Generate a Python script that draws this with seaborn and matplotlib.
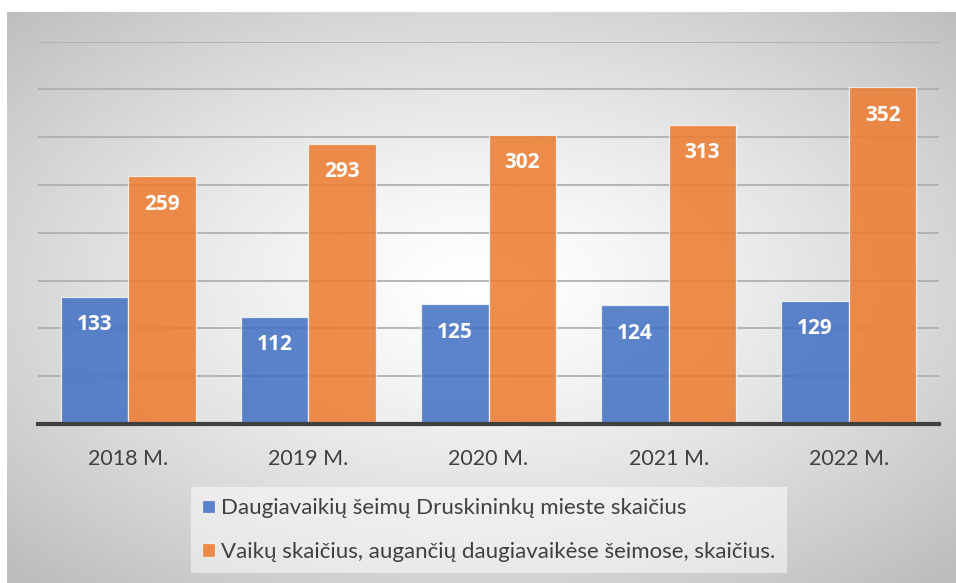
import numpy as np
import pandas as pd
import matplotlib
matplotlib.use("Agg")
import matplotlib.pyplot as plt
import seaborn as sns

# data
years = ["2018 M.", "2019 M.", "2020 M.", "2021 M.", "2022 M."]
families = [133, 112, 125, 124, 129]
children = [259, 293, 302, 313, 352]
series_names = [
    "Daugiavaikių šeimų Druskininkų mieste skaičius",
    "Vaikų skaičius, augančių daugiavaikėse šeimose, skaičius.",
]
colors = ["#4472C4", "#ED7D31"]

df = pd.DataFrame({
    "year": years * 2,
    "value": families + children,
    "series": [series_names[0]] * len(years) + [series_names[1]] * len(years),
})

sns.set_style("white")
plt.rcParams["font.family"] = ["Lato", "DejaVu Sans"]

W, H = 956, 583
fig = plt.figure(figsize=(W / 100, H / 100), dpi=100)
fig.patch.set_facecolor("white")

# radial grey gradient behind the chart (Excel style)
bg = fig.add_axes([7 / W, 0, (W - 7) / W, (H - 12) / H], zorder=-10)
yy, xx = np.mgrid[0:1:300j, 0:1:500j]
r = np.sqrt(((xx - 0.5) / 0.62) ** 2 + ((yy - 0.48) / 0.62) ** 2)
shade = 1.0 - 0.22 * np.clip(r, 0, 1.15) ** 1.3
bg.imshow(shade, cmap="gray", vmin=0, vmax=1, aspect="auto",
          extent=(0, 1, 0, 1), interpolation="bicubic")
bg.set_axis_off()

ax = fig.add_axes([38 / W, 1 - 424 / H, (939 - 38) / W, (424 - 41.5) / H])
ax.set_facecolor("none")

sns.barplot(data=df, x="year", y="value", hue="series", palette=colors,
            saturation=1, width=0.75, alpha=0.87, edgecolor="#f4f4f4",
            linewidth=0.9, ax=ax, legend=True)

ax.set_ylim(0, 400)
ax.set_xlim(-0.5, 4.5)
ax.set_yticks(np.arange(0, 401, 50))
ax.set_yticklabels([])
ax.tick_params(axis="y", length=0)
ax.tick_params(axis="x", length=0, pad=18, labelsize=15.5, labelcolor="#404040")
ax.yaxis.grid(True, color="#b0b0b0", linewidth=1.3)
ax.set_axisbelow(True)
ax.set_xlabel("")
ax.set_ylabel("")
for side in ["top", "left", "right"]:
    ax.spines[side].set_visible(False)
ax.spines["bottom"].set_color("#404040")
ax.spines["bottom"].set_linewidth(3)

# white value labels inside the bar tops
for cont in ax.containers:
    for bar in cont:
        h = bar.get_height()
        ax.annotate(f"{h:.0f}", (bar.get_x() + bar.get_width() / 2, h),
                    xytext=(0, -20), textcoords="offset points",
                    ha="center", va="center", color="white",
                    fontsize=15, fontweight="bold", family=["Open Sans", "DejaVu Sans"])

handles, labels = ax.get_legend_handles_labels()
ax.get_legend().remove()
leg = fig.legend(handles, labels, loc="center", bbox_to_anchor=(489 / W, 1 - 530 / H),
                 ncol=1, frameon=True, fancybox=False, fontsize=16,
                 handlelength=0.55, handleheight=0.55, handletextpad=0.3,
                 labelspacing=1.05, borderpad=0.5, labelcolor="#404040")
leg.get_frame().set_facecolor("white")
leg.get_frame().set_alpha(0.5)
leg.get_frame().set_edgecolor("none")

fig.savefig("out.png", dpi=100)
